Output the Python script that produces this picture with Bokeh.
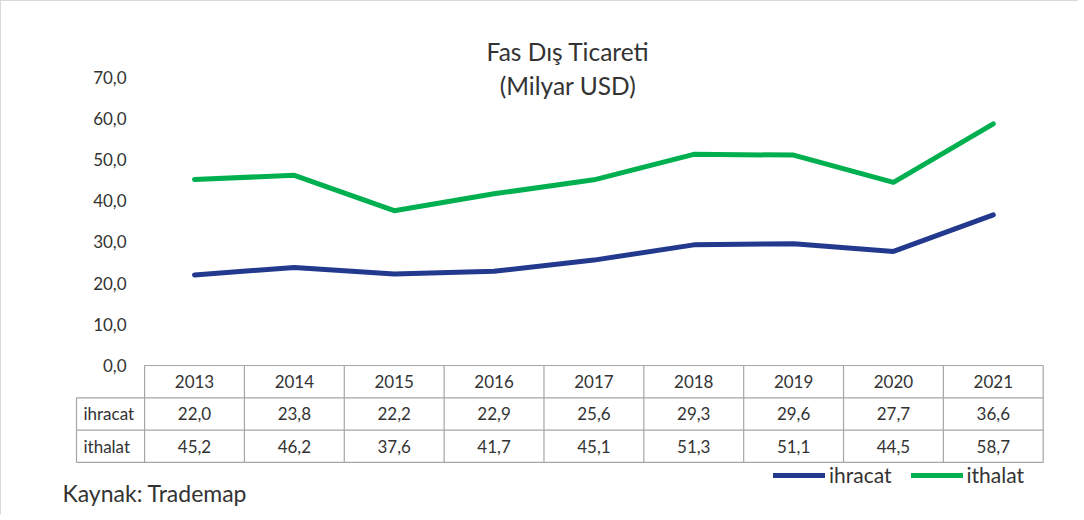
from bokeh.plotting import figure
from bokeh.models import (Range1d, LinearAxis, FixedTicker, CustomJSTickFormatter,
                          Legend, LegendItem)
from bokeh.core.properties import value
from bokeh.embed import file_html
from bokeh.resources import INLINE

# ---------------- data ----------------
years = ["2013", "2014", "2015", "2016", "2017", "2018", "2019", "2020", "2021"]
ihracat = [22.0, 23.8, 22.2, 22.9, 25.6, 29.3, 29.6, 27.7, 36.6]
ithalat = [45.2, 46.2, 37.6, 41.7, 45.1, 51.3, 51.1, 44.5, 58.7]
series_names = ["ihracat", "ithalat"]
series_colors = ["#22398e", "#00b050"]
y_ticks = [0, 10, 20, 30, 40, 50, 60, 70]
title_lines = ["Fas Dış Ticareti", "(Milyar USD)"]
source_note = "Kaynak: Trademap"

# ---------------- layout (page pixels) ----------------
W, H = 1078, 514
LEFT, TOP = 1, 1          # canvas origin in the picture (1px border)
X0, DX = 194.0, 99.85     # pixel of first category centre, category spacing
Y0, DY = 365.0, 4.117     # pixel of value 0, pixels per unit

def dx(px):
    return (px - X0) / DX

def dy(py):
    return (Y0 - py) / DY

FONT = "Lato"
TXT = "#333333"
GRID = "#a6a6a6"

p = figure(width=W, height=H,
           x_range=Range1d(dx(LEFT), dx(LEFT + W)),
           y_range=Range1d(dy(TOP + H), dy(TOP)),
           x_axis_type=None, y_axis_type=None,
           output_backend="svg", toolbar_location=None,
           min_border=0, outline_line_color=None,
           background_fill_color="white", border_fill_color="white",
           styles={"border-left": "1px solid #d9d9d9", "border-top": "1px solid #d9d9d9"})

# y axis with fixed location at the left edge of the plot area
yaxis = LinearAxis(ticker=FixedTicker(ticks=y_ticks),
                   formatter=CustomJSTickFormatter(code="return tick.toFixed(1).replace('.', ',');"),
                   fixed_location=-0.5,
                   major_tick_out=0, major_tick_in=0, minor_tick_out=0, minor_tick_in=0,
                   axis_line_color=None, major_label_standoff=18,
                   major_label_text_font=FONT, major_label_text_font_size="17px",
                   major_label_text_color=TXT)
p.add_layout(yaxis, "left")

# lines
idx = list(range(len(years)))
renderers = []
for name, vals, col in zip(series_names, [ihracat, ithalat], series_colors):
    r = p.line(idx, vals, line_color=col, line_width=5, line_cap="round", line_join="round")
    renderers.append(r)

# data table
n = len(years)
row_px = [365.0, 397.3, 429.6, 461.9]
label_left_px = 76.0
x_left_col = -0.5
x_right = n - 0.5
x_lab = dx(label_left_px)

hx0, hx1, hy = [], [], []
for i, b in enumerate(row_px):
    hx0.append(x_left_col if i == 0 else x_lab)
    hx1.append(x_right)
    hy.append(dy(b))
p.segment(x0=hx0, y0=hy, x1=hx1, y1=hy, line_color=GRID, line_width=1.2)

vx, vy0, vy1 = [], [], []
for k in range(n + 1):
    vx.append(x_left_col + k)
    vy0.append(dy(row_px[0]))
    vy1.append(dy(row_px[-1]))
vx.append(x_lab); vy0.append(dy(row_px[1])); vy1.append(dy(row_px[-1]))
p.segment(x0=vx, y0=vy0, x1=vx, y1=vy1, line_color=GRID, line_width=1.2)

def fmt(v):
    return f"{v:.1f}".replace(".", ",")

row_centers = [(row_px[i] + row_px[i + 1]) / 2 for i in range(3)]
cell_x, cell_y, cell_t = [], [], []
for i, yr in enumerate(years):
    cell_x.append(i); cell_y.append(dy(row_centers[0])); cell_t.append(yr)
for r, vals in enumerate([ihracat, ithalat]):
    for i, v in enumerate(vals):
        cell_x.append(i); cell_y.append(dy(row_centers[r + 1])); cell_t.append(fmt(v))
p.text(x=cell_x, y=cell_y, text=cell_t, text_align="center", text_baseline="middle",
       text_font=value(FONT), text_font_size="17px", text_color=TXT)

p.text(x=[dx(83)] * 2, y=[dy(row_centers[1]), dy(row_centers[2])], text=series_names,
       text_align="left", text_baseline="middle",
       text_font=value(FONT), text_font_size="17px", text_color=TXT)

# title
p.text(x=[dx(567.5)] * 2, y=[dy(50.7), dy(84.5)], text=title_lines,
       text_align="center", text_baseline="alphabetic",
       text_font=value(FONT), text_font_size="24.5px", text_color=TXT)

# source note
p.text(x=[dx(62)], y=[dy(492.7)], text=[source_note], text_align="left",
       text_baseline="alphabetic", text_font=value(FONT), text_font_size="23px", text_color=TXT)

# legend
legend = Legend(items=[LegendItem(label=nm, renderers=[r]) for nm, r in zip(series_names, renderers)],
                orientation="horizontal",
                location=(773 - LEFT, (TOP + H) - 487),
                glyph_width=52, glyph_height=20, label_height=20, label_standoff=4, spacing=19,
                padding=0, margin=0, border_line_color=None, background_fill_alpha=0,
                label_text_font=FONT, label_text_font_size="21px", label_text_color=TXT)
p.add_layout(legend, "center")

open("out.html", "w").write(file_html(p, INLINE))
